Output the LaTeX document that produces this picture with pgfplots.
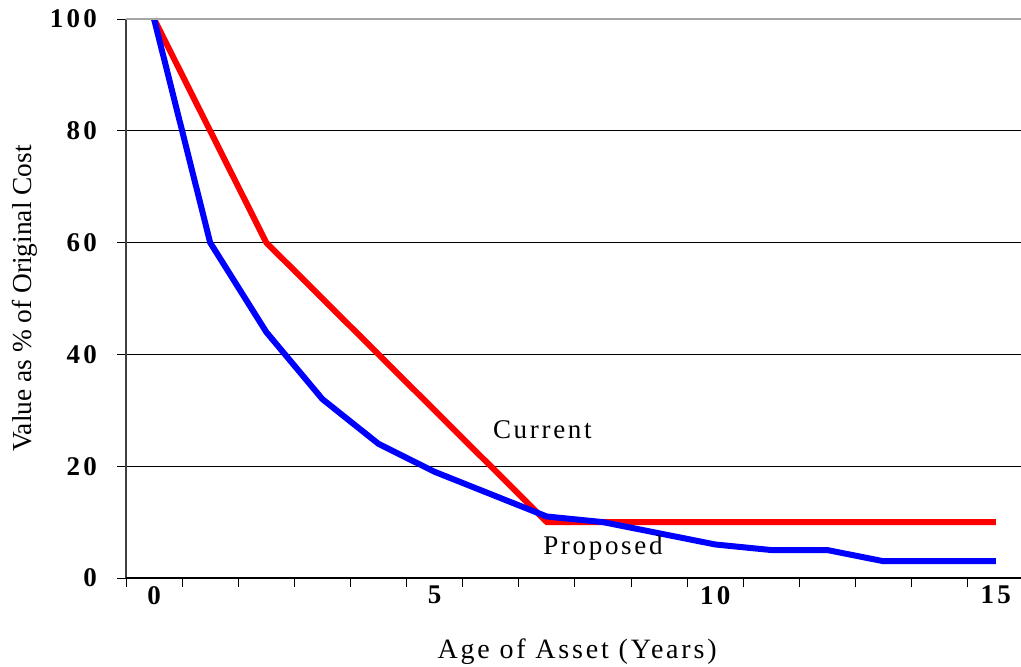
\documentclass[border=0pt]{standalone}
\usepackage{fontspec}
\setmainfont{Liberation Serif}
\usepackage{pgfplots}
\pgfplotsset{compat=1.18}
\begin{document}
\fontsize{13}{15}\selectfont
\begin{tikzpicture}
\useasboundingbox (0,0) rectangle (510.5pt,333pt);
\begin{axis}[
  at={(63pt,44pt)}, anchor=south west,
  scale only axis, width=447.5pt, height=279.5pt,
  xmin=-0.5, xmax=15.45, ymin=0, ymax=100,
  axis lines=left,
  x axis line style={-, black, line width=0.6pt},
  y axis line style={-, black!75, line width=0.8pt},
  xtick={-0.5,0.5,...,14.5},
  xticklabels={},
  extra x ticks={0,5,10,15},
  extra x tick labels={0,5,10,15},
  extra x tick style={tick style={draw=none}},
  ytick={0,20,...,100},
  tick style={black, line width=0.5pt},
  major tick length=4.5pt,
  tick align=outside,
  ymajorgrids,
  major grid style={black, line width=0.45pt},
  /pgf/number format/assume math mode=true,
  ticklabel style={font=\fontsize{13.5}{15}\selectfont\bfseries\addfontfeature{LetterSpace=12}},
  xticklabel style={yshift=5pt},
  yticklabel style={xshift=-5.5pt},
  xlabel={\addfontfeature{LetterSpace=10}Age of Asset (Years)},
  xlabel style={at={(axis description cs:0.504,0)}, anchor=center, yshift=-37pt, font=\fontsize{14}{15}\selectfont},
  ylabel={Value as \% of Original Cost},
  ylabel style={at={(axis description cs:-0.1128,0.5)}, anchor=center, font=\fontsize{13.7}{15}\selectfont},
  clip=false,
]
\addplot[red, line width=3pt] coordinates {
  (0,100) (1,80) (2,60) (3,50) (4,40) (5,30) (6,20) (7,10) (8,10) (9,10)
  (10,10) (11,10) (12,10) (13,10) (14,10) (15,10)};
\addplot[blue, line width=3pt] coordinates {
  (0,100) (1,60) (2,44) (3,32) (4,24) (5,19) (6,15) (7,11) (8,10) (9,8)
  (10,6) (11,5) (12,5) (13,3) (14,3) (15,3)};
\draw[gray!70, line width=0.6pt] (axis cs:-0.5,100) -- (axis cs:15.45,100);
\draw[black, line width=0.6pt] (axis cs:-0.5,0) -- ++(-5.5pt,0);
\node[font=\fontsize{13.5}{15}\selectfont\addfontfeature{LetterSpace=10}] at (axis cs:6.92,26.5) {Current};
\node[font=\fontsize{13.5}{15}\selectfont\addfontfeature{LetterSpace=10}] at (axis cs:8.0,5.4) {Proposed};
\end{axis}
\end{tikzpicture}
\end{document}
